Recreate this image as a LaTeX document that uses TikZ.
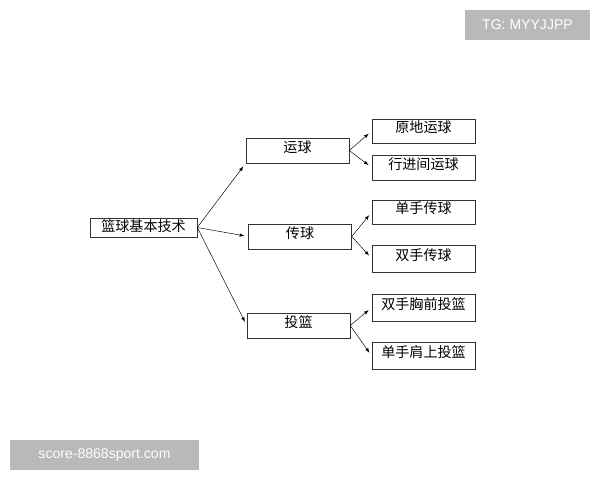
\documentclass[tikz,border=0pt]{standalone}
\usepackage{fontspec}
\newfontfamily\cjk{Noto Sans CJK SC}
\setmainfont{Liberation Sans}
\usetikzlibrary{arrows,positioning,shapes}

\tikzset{
  box/.style={draw=black!80,rectangle,minimum width=3.09cm,minimum height=0.75cm,
    text depth=0.25cm,inner sep=0pt,font=\cjk\fontsize{12}{12}\selectfont},
  link/.style={->,>=latex,shorten >=0.12cm}
}

\begin{document}
\begin{tikzpicture}[x=0.03cm,y=-0.03cm]
\useasboundingbox (0,0) rectangle (600,480);
\node[box,minimum width=3.21cm,minimum height=0.57cm,text depth=0.12cm] (root) at (143.5,227.5) {篮球基本技术};
\node[box] (dribble) at (297.5,150.5) {运球};
\node[box] (pass) at (300,236.5) {传球};
\node[box] (shoot) at (298.5,325.5) {投篮};
\node[box,minimum height=0.72cm] (d1) at (423.5,131) {原地运球};
\node[box] (d2) at (423.5,167.5) {行进间运球};
\node[box,minimum height=0.72cm] (p1) at (423.5,212) {单手传球};
\node[box,minimum height=0.8cm] (p2) at (423.5,258.5) {双手传球};
\node[box,minimum height=0.8cm] (s1) at (423.5,307.5) {双手胸前投篮};
\node[box,minimum height=0.8cm] (s2) at (423.5,356) {单手肩上投篮};
\draw[link] (root.east) -- (dribble.south west);
\draw[link] (root.east) -- (pass.west);
\draw[link] (root.east) -- (shoot.west);
\draw[link] (dribble.east) -- (d1.west);
\draw[link] (dribble.east) -- (d2.west);
\draw[link] (pass.east) -- (p1.west);
\draw[link] (pass.east) -- (p2.west);
\draw[link] (shoot.east) -- (s1.west);
\draw[link] (shoot.east) -- (s2.west);
% watermarks
\node[fill=gray!55,text=white,minimum width=3.75cm,minimum height=0.9cm,font=\fontsize{12}{12}\selectfont] (tg) at (527.5,25) {TG: MYYJJPP};
\node[fill=gray!55,text=white,minimum width=5.67cm,minimum height=0.9cm,font=\fontsize{12}{12}\selectfont] (site) at (104.5,455) {score-8868sport.com};
\end{tikzpicture}
\end{document}
